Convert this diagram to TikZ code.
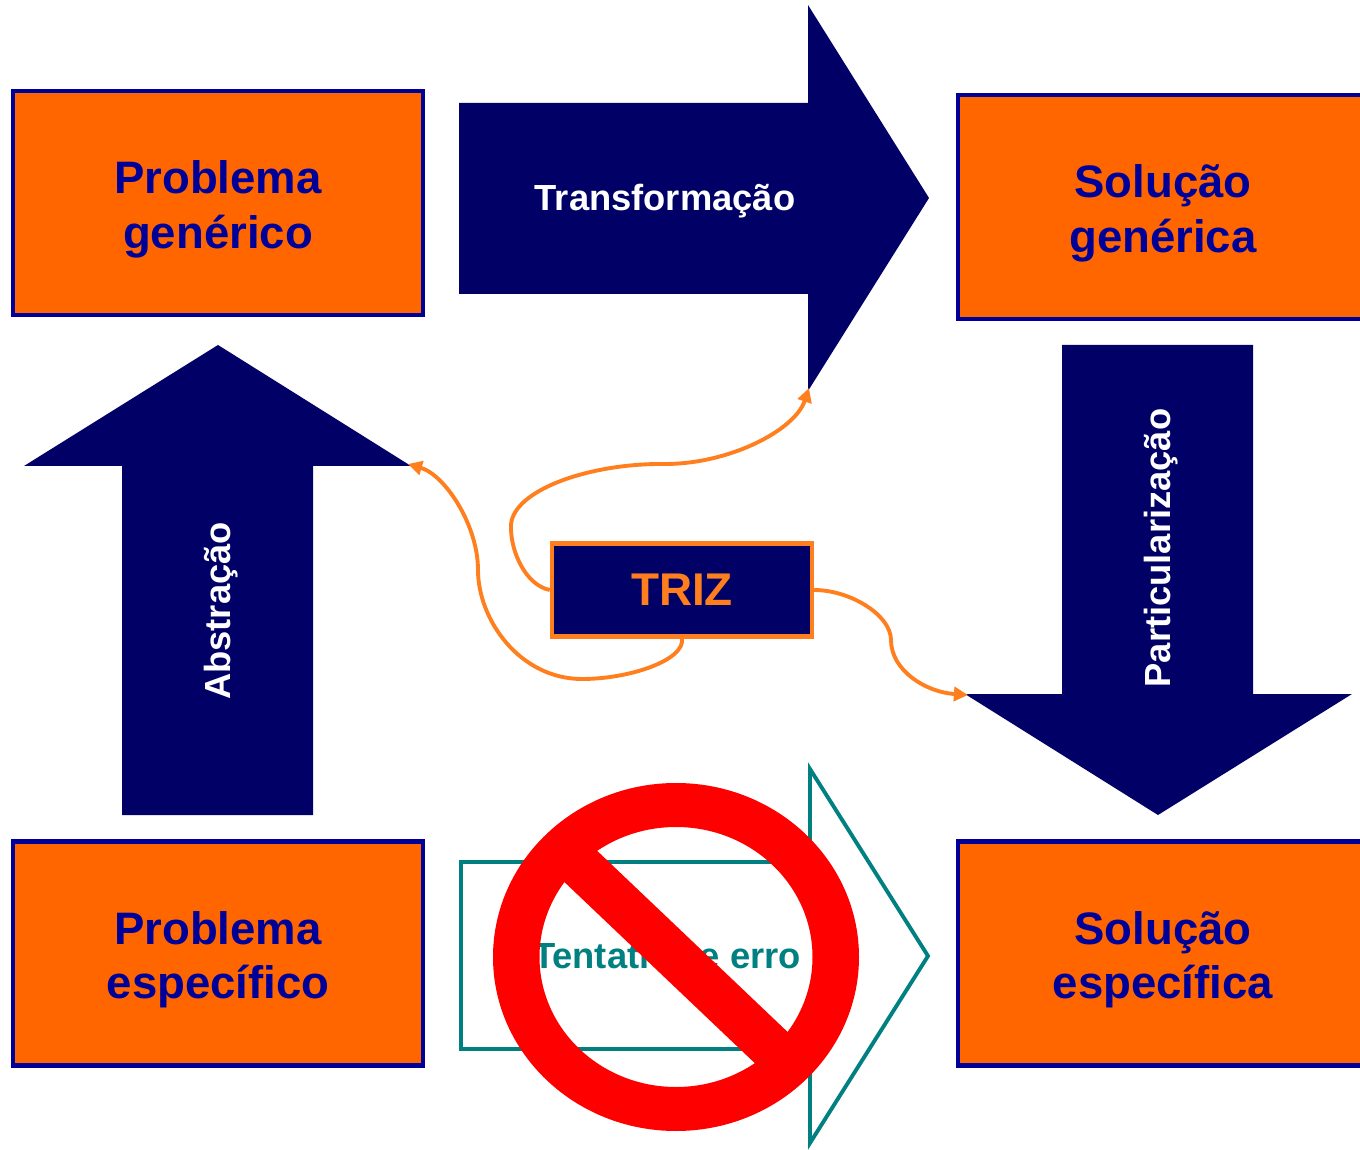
\documentclass[tikz,border=0pt]{standalone}
\usepackage{fontspec}
\setmainfont{Liberation Sans}
\usetikzlibrary{arrows.meta}
\definecolor{navy}{HTML}{000066}
\definecolor{boxorange}{HTML}{FF6600}
\definecolor{boxblue}{HTML}{000099}
\definecolor{lineorange}{HTML}{FF7F1E}
\definecolor{failteal}{HTML}{008080}
\tikzset{
	probbox/.style={draw=boxblue,fill=boxorange,line width=2.6pt,minimum width=232.4pt,minimum height=127pt,inner sep=0pt,align=center,text=boxblue,text height=56.8pt,font=\fontsize{25.8}{31}\selectfont\bfseries},
	bigarrow/.style={fill=navy,draw=none},
	arrowtext/.style={text=white,inner sep=0pt,font=\fontsize{20.6}{25}\selectfont\bfseries},
	trizline/.style={draw=lineorange,line width=2.2pt,-{Triangle[length=8pt,width=8pt]}}
}
\begin{document}
\begin{tikzpicture}[x=0.5669pt,y=-0.5669pt]
	\useasboundingbox (0,0) rectangle (1360,1150);
	% boxes
	\node[probbox] (probgen) at (218,203) {Problema\\genérico};
	\node[probbox] (solgen) at (1163,207) {Solução\\genérica};
	\node[probbox] (probesp) at (218,953.5) {Problema\\específico};
	\node[probbox] (solesp) at (1163,953.5) {Solução\\específica};
	% arrows
	\fill[bigarrow] (459,103) -- (808,103) -- (808,5) -- (929,198) -- (808,391) -- (808,294) -- (459,294) -- cycle;
	\node[arrowtext] (transf) at (665,201) {Transformação};
	\fill[bigarrow] (122,815) -- (122,466) -- (24,466) -- (218,345) -- (411,466) -- (313,466) -- (313,815) -- cycle;
	\node[arrowtext,rotate=90] (abstr) at (221,611) {Abstração};
	\fill[bigarrow] (1062,345) -- (1253,345) -- (1253,694) -- (1352,694) -- (1158,815) -- (965,694) -- (1062,694) -- cycle;
	\node[arrowtext,rotate=90] (partic) at (1161,548) {Particularização};
	% failed path
	\draw[draw=failteal,line width=2.2pt,fill=white] (461,862) -- (810,862) -- (810,769) -- (928,956) -- (810,1143) -- (810,1049) -- (461,1049) -- cycle;
	\node[arrowtext,text=failteal] (tent) at (667,956) {Tentativa e erro};
	\fill[red,even odd rule] (676,957) ellipse (183 and 174) (676,957) ellipse (136.5 and 130);
	\fill[red] (590,844) -- (557,875) -- (762,1070) -- (795,1039) -- cycle;
	% triz
	\node[draw=lineorange,fill=navy,line width=2.5pt,minimum width=147.4pt,minimum height=52.7pt,inner sep=0pt,text=lineorange,font=\fontsize{26}{30}\selectfont\bfseries] (triz) at (682,590) {TRIZ};
	\coordinate (tiptransf) at (809,388);
	\coordinate (tipabstr) at (408,464);
	\coordinate (tippartic) at (968,695);
	\draw[trizline] (triz.west) .. controls (525,585) and (510,550) .. (511,525) .. controls (513,490) and (590,463) .. (665,464) .. controls (730,464) and (795,430) .. (tiptransf);
	\draw[trizline] (triz.south) .. controls (685,660) and (630,679) .. (582,679) .. controls (520,679) and (478,620) .. (478,570) .. controls (478,525) and (445,475) .. (tipabstr);
	\draw[trizline] (triz.east) .. controls (850,590) and (891,615) .. (891,640) .. controls (891,670) and (925,692) .. (tippartic);
\end{tikzpicture}
\end{document}
